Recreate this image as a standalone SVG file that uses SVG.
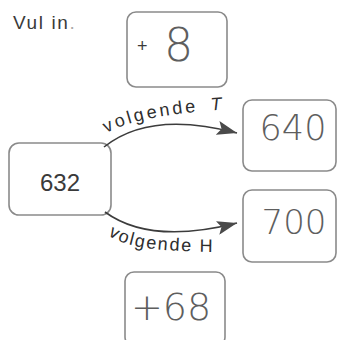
<svg xmlns="http://www.w3.org/2000/svg" width="338" height="340" viewBox="0 0 338 340">
<style>
.box{fill:#fff;stroke:#8a8a8a;stroke-width:1.6}
.print{font-family:"Liberation Sans",Arial,sans-serif;fill:#3a3a3a}
.hand{font-family:"DejaVu Sans","Liberation Sans",sans-serif;font-weight:200;fill:#5e5e5e}
.arrow{fill:none;stroke:#3c3c3c;stroke-width:1.6}
.lbl{font-family:"Liberation Sans",Arial,sans-serif;font-size:18px;fill:#2e2e2e;letter-spacing:1.8px}
</style>
<defs>
<marker id="ah" markerWidth="22" markerHeight="14" refX="20" refY="7" orient="auto" markerUnits="userSpaceOnUse">
<path d="M0,0 L20,7 L0,14 L4,7 Z" fill="#4a4a4a"/>
</marker>
<path id="pTop" d="M106,133 C125,124 150,114 232,109"/>
<path id="pBot" d="M108,235 C125,246 145,252 232,252"/>
</defs>
<rect width="338" height="340" fill="#fff"/>
<text class="print" x="13" y="29" font-size="19" letter-spacing="1.6">Vul in<tspan fill="#aaa">.</tspan></text>

<g id="node-plus8">
<rect class="box" x="127" y="12" width="100" height="75" rx="9"/>
<text class="print" x="137" y="52" font-size="18" fill="#555">+</text>
<text class="hand" x="164" y="61" font-size="46">8</text>
</g>

<g id="node-632">
<rect class="box" x="9" y="143" width="102" height="72" rx="10"/>
<text class="print" x="60" y="191" font-size="24" text-anchor="middle" fill="#404040">632</text>
</g>

<g id="node-640">
<rect class="box" x="243" y="100" width="93" height="71" rx="9"/>
<text class="hand" x="293" y="140" font-size="35" text-anchor="middle">640</text>
</g>

<g id="node-700">
<rect class="box" x="243" y="190" width="93" height="72" rx="9"/>
<text class="hand" x="294" y="234" font-size="34" text-anchor="middle">700</text>
</g>

<g id="node-plus68">
<rect class="box" x="125" y="272" width="100" height="74" rx="9"/>
<text class="hand" x="131" y="320" font-size="38">+68</text>
</g>

<g id="connectors">
<path class="arrow" d="M104,147 Q150,110 237,133" marker-end="url(#ah)"/>
<path class="arrow" d="M105,212 Q150,245 237,223" marker-end="url(#ah)"/>
<text class="lbl" style="letter-spacing:2.8px"><textPath href="#pTop">volgende</textPath></text>
<text class="lbl" font-style="italic"><textPath href="#pTop" startOffset="108">T</textPath></text>
<text class="lbl"><textPath href="#pBot">volgende H</textPath></text>
</g>
</svg>
